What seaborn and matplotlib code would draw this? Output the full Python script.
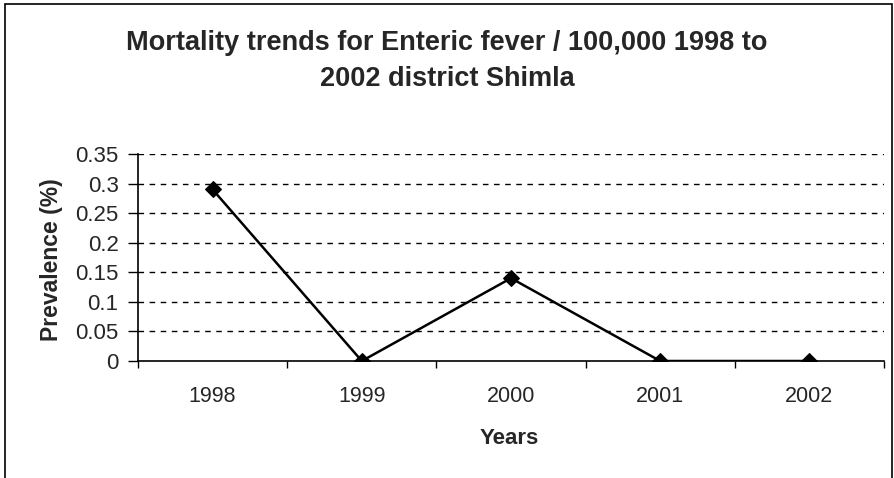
import matplotlib
matplotlib.use("Agg")
import matplotlib.pyplot as plt
from matplotlib.patches import Rectangle
from matplotlib.ticker import FixedLocator, NullFormatter
import seaborn as sns
import pandas as pd

years = ["1998", "1999", "2000", "2001", "2002"]
prevalence = [0.29, 0.0, 0.14, 0.0, 0.0]
y_ticks = [0, 0.05, 0.1, 0.15, 0.2, 0.25, 0.3, 0.35]
y_tick_labels = ["0", "0.05", "0.1", "0.15", "0.2", "0.25", "0.3", "0.35"]

df = pd.DataFrame({"pos": range(len(years)), "year": years, "prevalence": prevalence})

sns.set_style("white")
plt.rcParams["font.family"] = ["Liberation Sans", "DejaVu Sans"]

fig = plt.figure(figsize=(8.94, 4.78), dpi=100)
ax = fig.add_axes([138 / 894, 1 - 361 / 478, (884 - 138) / 894, (361 - 154) / 478])

sns.lineplot(data=df, x="pos", y="prevalence", ax=ax, color="black", linewidth=1.8,
             marker="D", markersize=8, markeredgecolor="black", markerfacecolor="black")

ax.set_xlim(-0.5, len(years) - 0.5)
ax.set_ylim(0, 0.35)

# category boundaries carry the tick marks, labels sit at category centres
ax.xaxis.set_major_locator(FixedLocator([i - 0.5 for i in range(len(years) + 1)]))
ax.xaxis.set_major_formatter(NullFormatter())
ax.set_xticks(list(range(len(years))), labels=years, minor=True)
ax.tick_params(axis="x", which="major", direction="out", length=5, width=1, color="black", bottom=True)
ax.tick_params(axis="x", which="minor", length=0, pad=18, labelsize=15.5)

ax.set_yticks(y_ticks, labels=y_tick_labels)
ax.tick_params(axis="y", direction="out", length=7, width=1, color="black", left=True,
               labelsize=16, pad=7)

for y in y_ticks[1:]:
    ax.axhline(y, color="black", linestyle=(0, (4, 4)), linewidth=1.0, zorder=0)

for side in ["top", "right"]:
    ax.spines[side].set_visible(False)
for side in ["left", "bottom"]:
    ax.spines[side].set_color("black")
    ax.spines[side].set_linewidth(1.2)

ax.set_xlabel("Years", fontsize=16, fontweight="bold")
ax.xaxis.set_label_coords(0.497, -0.325)
ax.set_ylabel("Prevalence (%)", fontsize=16.5, fontweight="bold")
ax.yaxis.set_label_coords(-0.1, 0.49)

fig.text(447 / 894, 1 - 61 / 478,
         "Mortality trends for Enteric fever / 100,000 1998 to\n2002 district Shimla",
         ha="center", va="center", fontsize=19.5, fontweight="bold", linespacing=1.5)

fig.patches.append(Rectangle((5 / 894, -0.02), (892 - 5) / 894, 1 - 4 / 478 + 0.02,
                             transform=fig.transFigure, fill=False,
                             edgecolor="black", linewidth=1.2))

fig.savefig("out.png", dpi=100)
